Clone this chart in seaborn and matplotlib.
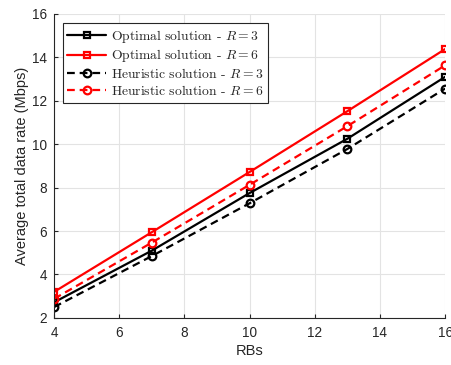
import matplotlib
matplotlib.use("Agg")
import matplotlib.pyplot as plt
import seaborn as sns
import pandas as pd

rbs = [4, 7, 10, 13, 16]
opt_r3 = [2.72, 5.1, 7.75, 10.25, 13.1]
opt_r6 = [3.2, 5.95, 8.72, 11.52, 14.38]
heu_r3 = [2.5, 4.85, 7.28, 9.78, 12.56]
heu_r6 = [2.88, 5.47, 8.13, 10.83, 13.63]
labels = ["Optimal solution - $R=3$", "Optimal solution - $R=6$",
          "Heuristic solution - $R=3$", "Heuristic solution - $R=6$"]

sns.set_theme(style="whitegrid")
plt.rcParams['font.family'] = ['Liberation Sans', 'DejaVu Sans']
plt.rcParams['mathtext.fontset'] = 'cm'

fig = plt.figure(figsize=(4.51, 3.65), dpi=100)
ax = fig.add_axes([0.12, 0.129, 0.867, 0.833])

series = [(opt_r3, 'black', '-', 's'), (opt_r6, 'red', '-', 's'),
          (heu_r3, 'black', '--', 'o'), (heu_r6, 'red', '--', 'o')]
for (vals, col, ls, mk), lab in zip(series, labels):
    df = pd.DataFrame({'RBs': rbs, 'rate': vals})
    sns.lineplot(data=df, x='RBs', y='rate', ax=ax, color=col, linestyle=ls,
                 marker=mk, markersize=5 if mk == 's' else 5.5,
                 markerfacecolor='none', markeredgecolor=col, markeredgewidth=1.6,
                 linewidth=1.6, label=lab)
for ln in ax.get_lines()[2:]:
    ln.set_dashes((3.5, 2.2))

ax.set_xlim(4, 16)
ax.set_ylim(2, 16)
ax.set_xticks([4, 6, 8, 10, 12, 14, 16])
ax.set_yticks([2, 4, 6, 8, 10, 12, 14, 16])
ax.set_xlabel('RBs', fontsize=10.5, color='#262626', labelpad=3)
ax.set_ylabel('Average total data rate (Mbps)', fontsize=10.5, color='#262626', labelpad=2)
ax.tick_params(axis='both', labelsize=9.8, colors='#262626', direction='in',
               length=3, width=0.8, bottom=True, left=True)
ax.tick_params(axis='x', pad=6)
ax.tick_params(axis='y', pad=5)
ax.grid(True, color='#e3e3e3', linewidth=0.8)
for s in ['top', 'right']:
    ax.spines[s].set_visible(False)
for s in ['left', 'bottom']:
    ax.spines[s].set_color('#262626')
    ax.spines[s].set_linewidth(0.8)

leg = ax.legend(loc='upper left', bbox_to_anchor=(0.022, 0.97), fontsize=9.8,
                frameon=True, fancybox=False, edgecolor='#262626', framealpha=1,
                handlelength=2.8, borderpad=0.35, labelspacing=0.2,
                handletextpad=0.4, borderaxespad=0)
leg.get_frame().set_linewidth(0.8)
for t in leg.get_texts():
    t.set_family('cmr10')
    t.set_color('#262626')

fig.savefig('out.png', dpi=100)
